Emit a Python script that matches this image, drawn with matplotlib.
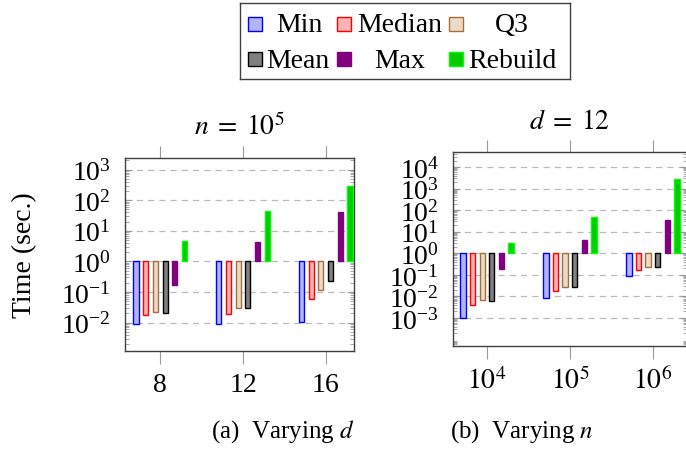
import numpy as np
import matplotlib.pyplot as plt
from matplotlib.patches import Rectangle
from matplotlib.ticker import LogLocator, NullFormatter

plt.rcParams['font.family'] = ['Liberation Serif', 'DejaVu Serif']
plt.rcParams['mathtext.fontset'] = 'stix'

# series names and styles
series = ['Min', 'Median', 'Q3', 'Mean', 'Max', 'Rebuild']
fills = ['#b3b3ff', '#ffb3b3', '#ecd9c6', '#808080', '#800080', '#00cc00']
edges = ['#0000ff', '#ff0000', '#a0703f', '#000000', '#800080', '#00ff00']

# (a) varying d, n = 10^5
d_values = [8, 12, 16]
a_min = [0.0087, 0.0091, 0.0106]
a_median = [0.0175, 0.019, 0.057]
a_q3 = [0.023, 0.030, 0.112]
a_mean = [0.020, 0.029, 0.23]
a_max = [0.17, 4.4, 40]
a_rebuild = [4.6, 46, 300]

# (b) varying n, d = 12
n_exp = [4, 5, 6]
n_labels = ['$10^4$', '$10^5$', '$10^6$']
b_min = [0.00098, 0.0085, 0.086]
b_median = [0.0039, 0.018, 0.17]
b_q3 = [0.0066, 0.028, 0.22]
b_mean = [0.0062, 0.027, 0.22]
b_max = [0.195, 4.3, 36]
b_rebuild = [2.9, 47, 2700]


def draw_bars(ax, xs, data, spacing, width):
    xs = np.array(xs, dtype=float)
    for i, vals in enumerate(data):
        off = (i - 2.5) * spacing
        vals = np.array(vals)
        ax.bar(xs + off, vals - 1, bottom=1, width=width, color=fills[i],
               edgecolor=edges[i], linewidth=1.0, zorder=3)


def style_axes(ax, ylo, yhi, majors):
    ax.set_yscale('log')
    ax.set_ylim(ylo, yhi)
    ax.set_yticks(majors)
    ax.yaxis.set_minor_locator(LogLocator(base=10, subs=np.arange(2, 10), numticks=100))
    ax.yaxis.set_minor_formatter(NullFormatter())
    ax.yaxis.grid(True, which='major', linestyle=(0, (5, 4)), color='#bbbbbb', linewidth=0.9, zorder=0)
    ax.tick_params(axis='y', which='both', direction='in', left=True, right=True,
                   color='#999999', labelsize=20, pad=10)
    ax.tick_params(axis='y', which='major', length=5)
    ax.tick_params(axis='y', which='minor', length=3)
    ax.tick_params(axis='x', which='major', direction='out', top=True, bottom=True,
                   length=9, color='#999999', labelsize=20, pad=6)
    for s in ax.spines.values():
        s.set_color('#404040')
        s.set_linewidth(1.0)


fig = plt.figure(figsize=(6.86, 4.52), dpi=100)

ax1 = fig.add_axes([0.1822, 0.2212, 0.3338, 0.4270])
draw_bars(ax1, d_values, [a_min, a_median, a_q3, a_mean, a_max, a_rebuild], 0.47, 0.25)
style_axes(ax1, 10 ** -2.93, 10 ** 3.38, [1e-2, 1e-1, 1, 1e1, 1e2, 1e3])
ax1.set_xlim(6.29, 17.37)
ax1.set_xticks(d_values)
ax1.set_xticklabels([str(v) for v in d_values])
ax1.set_ylabel('Time (sec.)', fontsize=20)
ax1.yaxis.set_label_coords(-0.385, 0.5)
ax1.text(0.5, 1 + 32 / 193, r'$n\;=\;10^5$', transform=ax1.transAxes, ha='center', va='center', fontsize=20)

ax2 = fig.add_axes([0.6603, 0.2323, 0.3411, 0.4292])
draw_bars(ax2, n_exp, [b_min, b_median, b_q3, b_mean, b_max, b_rebuild], 0.116, 0.064)
style_axes(ax2, 10 ** -4.30, 10 ** 4.70, [1e-3, 1e-2, 1e-1, 1, 1e1, 1e2, 1e3, 1e4])
ax2.set_xlim(3.59, 6.41)
ax2.set_xticks(n_exp)
ax2.set_xticklabels(n_labels)
ax2.text(0.5, 1 + 31 / 194, r'$d\;=\;12$', transform=ax2.transAxes, ha='center', va='center', fontsize=20)

fig.text(283 / 686, 1 - 432 / 452, '(a)  Varying $d$', ha='center', va='center', fontsize=18)
fig.text(522 / 686, 1 - 432 / 452, '(b)  Varying $n$', ha='center', va='center', fontsize=18)

# legend box drawn by hand (pixel layout)
lg = fig.add_axes([240 / 686, 1 - 80 / 452, 330 / 686, 76 / 452])
lg.set_xlim(240, 570)
lg.set_ylim(80, 4)
lg.set_xticks([])
lg.set_yticks([])
for s in lg.spines.values():
    s.set_color('#404040')
    s.set_linewidth(1.0)
handle_x = [248, 337, 449]
text_x = [299, 400, 512, 298, 400, 512]
row_y = [25, 60]
for i, name in enumerate(series):
    r, c = divmod(i, 3)
    lg.add_patch(Rectangle((handle_x[c], row_y[r] - 7), 14, 14, facecolor=fills[i],
                           edgecolor=edges[i], linewidth=1.0))
    lg.text(text_x[i], row_y[r] + 1, name, ha='center', va='center', fontsize=20)

fig.savefig('out.png', dpi=100)
